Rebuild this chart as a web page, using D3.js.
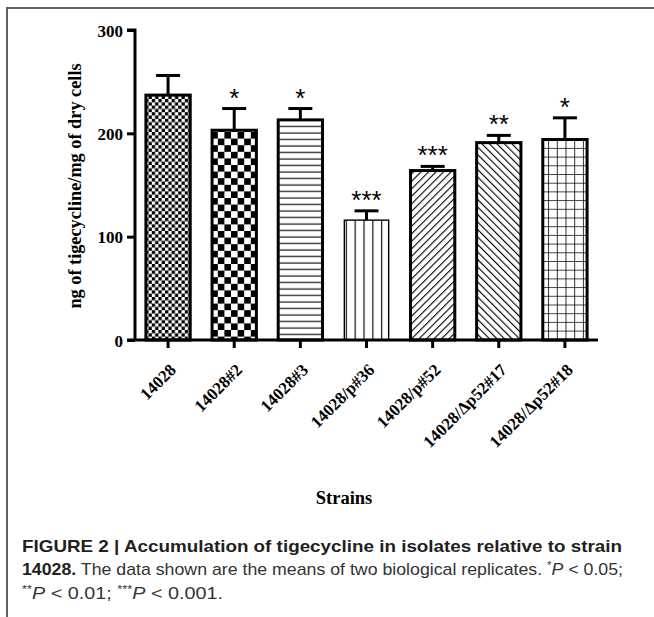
<!DOCTYPE html>
<html>
<head>
<meta charset="utf-8">
<script src="https://cdn.jsdelivr.net/npm/d3@7"></script>
<style>
  body { margin: 0; background: #fff; }
  svg { display: block; }
</style>
</head>
<body>
<div class="chart-wrapper"></div>
<script>
// data
const strains = ["14028", "14028#2", "14028#3", "14028/p#36", "14028/p#52", "14028/\u0394p52#17", "14028/\u0394p52#18"];
const means = [237, 203, 213, 116, 164, 191, 194];
const errTops = [256, 224, 224, 125, 168, 198, 215];
const stars = ["", "*", "*", "***", "***", "**", "*"];
const patterns = ["fineCheck", "boldCheck", "hLines", "vLines", "fwdDiag", "backDiag", "grid"];
const yTicks = [0, 100, 200, 300];

const width = 654, height = 617;

const svg = d3.select(".chart-wrapper")
  .append("svg")
  .attr("width", width)
  .attr("height", height);

// fill patterns
const defs = svg.append("defs");
let pat;
pat = defs.append("pattern").attr("id", "fineCheck").attr("patternUnits", "userSpaceOnUse")
  .attr("width", 6.6).attr("height", 6.6);
pat.append("rect").attr("width", 6.6).attr("height", 6.6).attr("fill", "#fff");
pat.append("rect").attr("width", 3.3).attr("height", 3.3).attr("fill", "#000");
pat.append("rect").attr("x", 3.3).attr("y", 3.3).attr("width", 3.3).attr("height", 3.3).attr("fill", "#000");

pat = defs.append("pattern").attr("id", "boldCheck").attr("patternUnits", "userSpaceOnUse")
  .attr("width", 13.2).attr("height", 13.2);
pat.append("rect").attr("width", 13.2).attr("height", 13.2).attr("fill", "#fff");
pat.append("rect").attr("width", 6.6).attr("height", 6.6).attr("fill", "#000");
pat.append("rect").attr("x", 6.6).attr("y", 6.6).attr("width", 6.6).attr("height", 6.6).attr("fill", "#000");

pat = defs.append("pattern").attr("id", "hLines").attr("patternUnits", "userSpaceOnUse")
  .attr("width", 10).attr("height", 6.5);
pat.append("rect").attr("width", 10).attr("height", 6.5).attr("fill", "#fff");
pat.append("line").attr("x1", 0).attr("x2", 10).attr("y1", 3).attr("y2", 3)
  .attr("stroke", "#000").attr("stroke-width", 1.1);

pat = defs.append("pattern").attr("id", "vLines").attr("patternUnits", "userSpaceOnUse")
  .attr("x", 0.6).attr("width", 8.85).attr("height", 10);
pat.append("rect").attr("width", 8.85).attr("height", 10).attr("fill", "#fff");
pat.append("line").attr("x1", 0).attr("x2", 0).attr("y1", 0).attr("y2", 10)
  .attr("stroke", "#000").attr("stroke-width", 2.2);

pat = defs.append("pattern").attr("id", "fwdDiag").attr("patternUnits", "userSpaceOnUse")
  .attr("width", 5.3).attr("height", 5.3).attr("patternTransform", "rotate(45)");
pat.append("rect").attr("width", 5.3).attr("height", 5.3).attr("fill", "#fff");
pat.append("line").attr("x1", 0).attr("x2", 0).attr("y1", 0).attr("y2", 5.3)
  .attr("stroke", "#000").attr("stroke-width", 2.2);

pat = defs.append("pattern").attr("id", "backDiag").attr("patternUnits", "userSpaceOnUse")
  .attr("width", 5.3).attr("height", 5.3).attr("patternTransform", "rotate(-45)");
pat.append("rect").attr("width", 5.3).attr("height", 5.3).attr("fill", "#fff");
pat.append("line").attr("x1", 0).attr("x2", 0).attr("y1", 0).attr("y2", 5.3)
  .attr("stroke", "#000").attr("stroke-width", 2.2);

pat = defs.append("pattern").attr("id", "grid").attr("patternUnits", "userSpaceOnUse")
  .attr("width", 8.7).attr("height", 8.7);
pat.append("rect").attr("width", 8.7).attr("height", 8.7).attr("fill", "#fff");
pat.append("path").attr("d", "M0,0H8.7M0,0V8.7").attr("stroke", "#000").attr("stroke-width", 1.6).attr("fill", "none");

// frame round the figure
svg.append("path")
  .attr("d", "M7,617V8H654")
  .attr("fill", "none")
  .attr("stroke", "#5f5f5f")
  .attr("stroke-width", 2);

const x = d3.scaleBand()
  .domain(strains)
  .range([135, 598])
  .paddingInner(0.33)
  .paddingOuter(0.165);

const y = d3.scaleLinear()
  .domain([0, 300])
  .range([340, 30]);

const serif = "'Liberation Serif', 'Times New Roman', serif";

// bars
svg.selectAll(".bar")
  .data(strains)
  .enter()
  .append("rect")
  .attr("class", "bar")
  .attr("x", d => x(d))
  .attr("width", x.bandwidth())
  .attr("y", (d, i) => y(means[i]))
  .attr("height", (d, i) => y(0) - y(means[i]))
  .attr("fill", (d, i) => `url(#${patterns[i]})`)
  .attr("stroke", "#000")
  .attr("stroke-width", (d, i) => patterns[i] === "vLines" ? 1.4 : 3);

// error bars
let errs = svg.selectAll(".err")
  .data(strains)
  .enter()
  .append("g")
  .attr("class", "err")
  .attr("stroke", "#000")
  .attr("stroke-width", 3);
errs.append("line")
  .attr("x1", d => x(d) + x.bandwidth() / 2)
  .attr("x2", d => x(d) + x.bandwidth() / 2)
  .attr("y1", (d, i) => y(means[i]))
  .attr("y2", (d, i) => y(errTops[i]));
errs.append("line")
  .attr("x1", d => x(d) + x.bandwidth() / 2 - 12)
  .attr("x2", d => x(d) + x.bandwidth() / 2 + 12)
  .attr("y1", (d, i) => y(errTops[i]))
  .attr("y2", (d, i) => y(errTops[i]));

// significance stars
svg.selectAll(".star")
  .data(strains)
  .enter()
  .append("text")
  .attr("class", "star")
  .attr("x", d => x(d) + x.bandwidth() / 2)
  .attr("y", (d, i) => y(errTops[i]) - 2)
  .attr("text-anchor", "middle")
  .attr("font-family", "'Liberation Sans', Arial, sans-serif")
  .attr("font-size", 26)
  .text((d, i) => stars[i]);

// axes
let yAxis = svg.append("g")
  .attr("transform", "translate(135,0)")
  .call(d3.axisLeft(y).tickValues(yTicks).tickSize(8).tickPadding(4));
let xAxis = svg.append("g")
  .attr("transform", "translate(0,340)")
  .call(d3.axisBottom(x).tickSize(8).tickSizeOuter(0));

[yAxis, xAxis].forEach(ax => {
  ax.select(".domain").attr("stroke-width", 3);
  ax.selectAll(".tick line").attr("stroke-width", 3);
  ax.selectAll("text")
    .attr("font-family", serif)
    .attr("font-weight", "bold")
    .attr("font-size", 17)
    .attr("fill", "#000");
});
yAxis.select(".domain").attr("d", "M-8,30H0V340");
xAxis.select(".domain").attr("d", "M127,0H598");
yAxis.selectAll("text").attr("dy", "0.36em");

xAxis.selectAll("text")
  .attr("text-anchor", "end")
  .attr("dy", null)
  .attr("y", 0)
  .attr("transform", "translate(9,31) rotate(-45)");

// axis titles
svg.append("text")
  .attr("transform", "translate(81,186) rotate(-90)")
  .attr("text-anchor", "middle")
  .attr("font-family", serif)
  .attr("font-weight", "bold")
  .attr("font-size", 18.3)
  .text("ng of tigecycline/mg of dry cells");

svg.append("text")
  .attr("x", 344)
  .attr("y", 504)
  .attr("text-anchor", "middle")
  .attr("font-family", serif)
  .attr("font-weight", "bold")
  .attr("font-size", 18.5)
  .text("Strains");

// caption
const capFont = "'Liberation Sans', Arial, sans-serif";
const capColor = "#231f20";

svg.append("text")
  .attr("x", 22)
  .attr("y", 552)
  .attr("font-family", capFont)
  .attr("font-weight", "bold")
  .attr("font-size", 17)
  .attr("fill", capColor)
  .attr("textLength", 600)
  .attr("lengthAdjust", "spacingAndGlyphs")
  .text("FIGURE 2 | Accumulation of tigecycline in isolates relative to strain");

let line2 = svg.append("text")
  .attr("x", 22)
  .attr("y", 575)
  .attr("font-family", capFont)
  .attr("font-size", 17)
  .attr("fill", "#333")
  .attr("textLength", 601)
  .attr("lengthAdjust", "spacingAndGlyphs");
line2.append("tspan").attr("font-weight", "bold").attr("fill", capColor).text("14028.");
line2.append("tspan").text(" The data shown are the means of two biological replicates. ");
line2.append("tspan").attr("font-size", 11).attr("dy", -6).text("*");
line2.append("tspan").attr("font-style", "italic").attr("dy", 6).text("P");
line2.append("tspan").text(" < 0.05;");

let line3 = svg.append("text")
  .attr("x", 22)
  .attr("y", 599)
  .attr("font-family", capFont)
  .attr("font-size", 17)
  .attr("fill", "#333")
  .attr("textLength", 201)
  .attr("lengthAdjust", "spacingAndGlyphs");
line3.append("tspan").attr("font-size", 11).attr("dy", -6).text("**");
line3.append("tspan").attr("font-style", "italic").attr("dy", 6).text("P");
line3.append("tspan").text(" < 0.01; ");
line3.append("tspan").attr("font-size", 11).attr("dy", -6).text("***");
line3.append("tspan").attr("font-style", "italic").attr("dy", 6).text("P");
line3.append("tspan").text(" < 0.001.");
</script>
</body>
</html>
